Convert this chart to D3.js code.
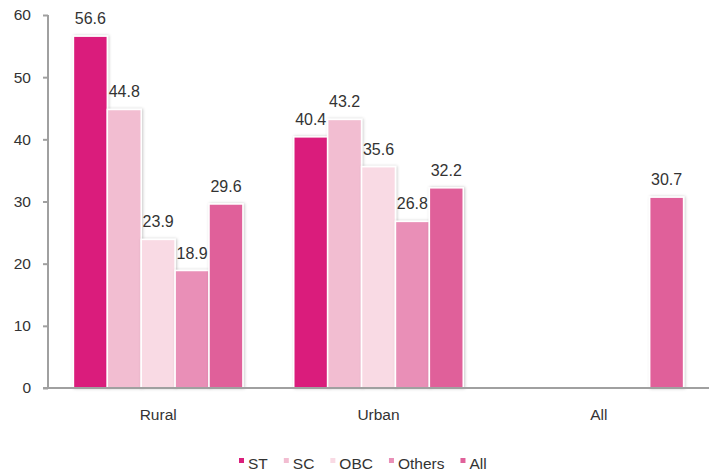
<!DOCTYPE html>
<html lang="en">
<head>
<meta charset="utf-8">
<title>Bar chart</title>
<script src="https://cdn.jsdelivr.net/npm/d3@7"></script>
<style>
	body { margin: 0; background: #fff; }
	text { font-family: "Liberation Sans", Arial, sans-serif; fill: #333; }
</style>
</head>
<body>
<div id="chart"></div>
<script>
	// data
	var groups = ["Rural", "Urban", "All"];
	var series = ["ST", "SC", "OBC", "Others", "All"];
	var colors = ["#da1f7c", "#f2bdd1", "#f9dae4", "#e98fb7", "#e0619a"];
	var rural = [56.6, 44.8, 23.9, 18.9, 29.6];
	var urban = [40.4, 43.2, 35.6, 26.8, 32.2];
	var all = [null, null, null, null, 30.7];
	var yTicks = [0, 10, 20, 30, 40, 50, 60];

	var values = [rural, urban, all];

	var width = 709, height = 475;
	var margin = {top: 15, right: 0, bottom: 87, left: 48};

	var svg = d3.select("#chart").append("svg")
		.attr("width", width)
		.attr("height", height);

	var defs = svg.append("defs");
	var f = defs.append("filter").attr("id", "shadow")
		.attr("x", "-20%").attr("y", "-5%").attr("width", "140%").attr("height", "110%");
	f.append("feDropShadow")
		.attr("dx", 1).attr("dy", 0).attr("stdDeviation", 1.5)
		.attr("flood-color", "#000").attr("flood-opacity", 0.22);

	var x0 = d3.scaleBand()
		.domain(groups)
		.range([margin.left, width - margin.right]);

	var x1 = d3.scaleBand()
		.domain(series)
		.range([0, x0.bandwidth()])
		.paddingOuter(0.75)
		.paddingInner(0);

	var y = d3.scaleLinear()
		.domain([0, 60])
		.range([height - margin.bottom, margin.top]);

	// y axis
	var yAxis = svg.append("g")
		.attr("transform", "translate(" + margin.left + ",0)")
		.call(d3.axisLeft(y).tickValues(yTicks).tickSize(5).tickPadding(12));
	yAxis.select(".domain").attr("stroke", "#a0a0a0").attr("stroke-width", 2)
		.attr("d", "M0," + y(60) + "V" + y(0));
	yAxis.selectAll(".tick line").attr("stroke", "#a0a0a0").attr("stroke-width", 2);
	yAxis.selectAll(".tick text").style("font-size", "15.5px").style("font-family", null).attr("fill", null);

	// bars
	var g = svg.append("g");
	groups.forEach(function(grp, gi) {
		var data = series.map(function(s, si) { return {s: s, i: si, v: values[gi][si]}; })
			.filter(function(d) { return d.v != null; });
		var gg = g.append("g").attr("transform", "translate(" + x0(grp) + ",0)");
		gg.selectAll("rect")
			.data(data)
			.enter().append("rect")
			.attr("x", function(d) { return x1(d.s); })
			.attr("y", function(d) { return y(d.v); })
			.attr("width", x1.bandwidth())
			.attr("height", function(d) { return y(0) - y(d.v); })
			.attr("fill", function(d) { return colors[d.i]; })
			.attr("stroke", "#fff")
			.attr("stroke-width", 1.5)
			.attr("filter", "url(#shadow)");
		gg.selectAll(".lbl")
			.data(data)
			.enter().append("text")
			.attr("class", "lbl")
			.attr("x", function(d) { return x1(d.s) + x1.bandwidth() / 2; })
			.attr("y", function(d) { return y(d.v) - 12; })
			.attr("text-anchor", "middle")
			.style("font-size", "16px")
			.text(function(d) { return d.v.toFixed(1); });
	});

	// x axis
	var xAxis = svg.append("g")
		.attr("transform", "translate(0," + y(0) + ")")
		.call(d3.axisBottom(x0).tickSize(0).tickPadding(21));
	xAxis.select(".domain").attr("stroke", "#a0a0a0").attr("stroke-width", 2)
		.attr("d", "M" + (margin.left - 5) + ",0H" + width);
	xAxis.selectAll(".tick text").style("font-size", "15.5px").style("font-family", null).attr("fill", null);

	// legend
	var legend = svg.append("g").attr("transform", "translate(0,463)");
	var lx = 239;
	series.forEach(function(s, i) {
		var item = legend.append("g").attr("transform", "translate(" + lx + ",0)");
		item.append("rect")
			.attr("x", 0).attr("y", -5)
			.attr("width", 5).attr("height", 5)
			.attr("fill", colors[i]);
		var t = item.append("text")
			.attr("x", 9).attr("y", 5.5)
			.style("font-size", "15.5px")
			.text(s);
		lx += 9 + t.node().getComputedTextLength() + 16;
	});
</script>
</body>
</html>
